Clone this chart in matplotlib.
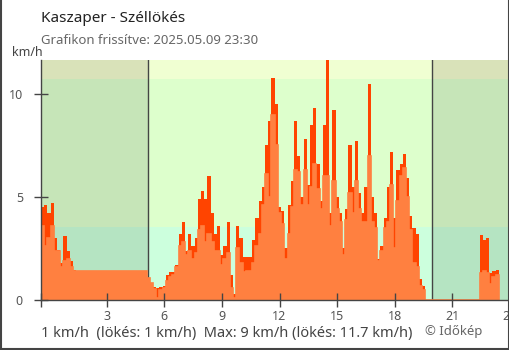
import matplotlib
matplotlib.use('Agg')
import matplotlib.pyplot as plt
from matplotlib.lines import Line2D
import numpy as np

plt.rcParams['font.family'] = ['Noto Sans', 'DejaVu Sans']

# 10 minute values, first one starting 23:35 the day before
gust = [4.5, 4.6, 4.2, 4.7, 3.0, 2.45, 1.8, 3.1, 2.4, 1.9,
        1.45, 1.42, 1.42, 1.42, 1.42, 1.42, 1.42, 1.42, 1.42, 1.42,
        1.42, 1.42, 1.42, 1.42, 1.42, 1.42, 1.42, 1.42, 1.42, 1.42,
        1.42, 1.42, 1.42, 1.05, 0.84, 0.65, 0.6, 0.65, 0.7, 1.2,
        1.38, 1.38, 1.7, 3.2, 3.8, 2.4, 3.2, 2.6, 3.0, 4.9,
        5.3, 4.9, 6.0, 4.2, 3.2, 3.6, 2.2, 2.6, 3.8, 1.2,
        0.3, 3.6, 3.0, 2.1, 2.1, 2.1, 2.9, 4.0, 4.8, 5.5,
        7.5, 8.7, 10.8, 9.5, 4.5, 4.3, 2.5, 4.6, 5.8, 8.7,
        7.0, 5.0, 7.8, 5.6, 8.5, 9.3, 6.6, 4.8, 8.5, 11.7,
        4.2, 9.2, 5.0, 4.2, 2.5, 4.4, 7.5, 5.5, 7.7, 5.2,
        4.2, 5.5, 10.5, 5.0, 4.2, 2.0, 2.6, 4.0, 5.5, 7.2,
        4.0, 6.3, 6.6, 7.1, 5.9, 4.1, 3.5, 3.2, 1.0, 0.7,
        0, 0, 0, 0, 0, 0, 0, 0, 0, 0,
        0, 0, 0, 0, 0, 0, 0, 3.15, 2.9, 3.0,
        1.3, 1.4, 1.45]
avg = [3.6, 2.6, 3.0, 3.6, 2.4, 2.4, 1.6, 1.9, 2.0, 1.6,
       1.42, 1.42, 1.42, 1.42, 1.42, 1.42, 1.42, 1.42, 1.42, 1.42,
       1.42, 1.42, 1.42, 1.42, 1.42, 1.42, 1.42, 1.42, 1.42, 1.42,
       1.42, 1.42, 1.42, 1.05, 0.84, 0.55, 0.1, 0.5, 0.6, 0.9,
       1.1, 1.2, 1.6, 2.6, 2.8, 2.2, 2.4, 2.0, 2.3, 3.4,
       3.6, 2.8, 3.2, 2.8, 2.4, 2.4, 1.7, 2.0, 2.3, 0.6,
       0.1, 2.5, 1.8, 1.35, 1.4, 1.4, 1.8, 2.6, 3.2, 4.6,
       6.1, 5.0, 9.0, 7.5, 4.2, 3.7, 2.0, 3.2, 4.5, 6.3,
       6.2, 4.6, 6.3, 4.6, 5.5, 6.6, 5.4, 4.4, 6.0, 6.0,
       3.6, 5.8, 4.4, 3.8, 2.2, 3.9, 5.2, 4.2, 5.8, 4.4,
       3.8, 3.8, 7.0, 3.8, 3.5, 1.9, 2.4, 3.5, 3.8, 5.6,
       2.5, 4.8, 6.0, 6.4, 5.0, 3.4, 1.8, 1.6, 0.7, 0.5,
       0, 0, 0, 0, 0, 0, 0, 0, 0, 0,
       0, 0, 0, 0, 0, 0, 0, 1.3, 1.4, 1.3,
       0.8, 1.1, 1.2]

start_h = -25 / 60
sunrise = 5.17
sunset = 19.96
band_limits = [0, 3.54, 10.72, 11.65]
day_colors = ['#ccffdd', '#ddffcc', '#f0ffd2']
night_colors = ['#b5e4c2', '#c6e5b8', '#d9e2b9']
xticks = [3, 6, 9, 12, 15, 18, 21, 24]
yticks = [0, 5, 10]

gust_color = '#ff4400'
avg_color = '#ff8040'

edges = start_h + np.arange(len(gust) + 1) / 6
xmin, xmax = start_h, 24.0

fig = plt.figure(figsize=(5.1, 3.5), dpi=100)
ax = fig.add_axes([41 / 510, 50 / 350, 469 / 510, 240 / 350])

# background bands, night parts darker
for k in range(3):
    lo, hi = band_limits[k], band_limits[k + 1]
    ax.fill_between([xmin, sunrise], lo, hi, color=night_colors[k], lw=0, zorder=0)
    ax.fill_between([sunrise, sunset], lo, hi, color=day_colors[k], lw=0, zorder=0)
    ax.fill_between([sunset, xmax], lo, hi, color=night_colors[k], lw=0, zorder=0)
ax.axvline(sunrise, color='#444444', lw=1, zorder=0.5)
ax.axvline(sunset, color='#444444', lw=1, zorder=0.5)

ax.stairs(gust, edges, fill=True, color=gust_color, lw=0, zorder=1)
ax.stairs(avg, edges, fill=True, color=avg_color, lw=0, zorder=1.2)
ax.stairs(avg, edges, color=avg_color, lw=1.2, zorder=1.3)

ax.set_xlim(xmin, xmax)
ax.set_ylim(band_limits[0], band_limits[-1])
ax.set_xticks([xmin] + xticks)
ax.set_xticklabels([''] + [str(v) for v in xticks])
ax.set_yticks(yticks)
ax.tick_params(direction='inout', length=10, width=1, color='#444444',
               labelcolor='#555555', labelsize=9)
ax.tick_params(axis='y', pad=8)
ax.tick_params(axis='x', pad=2.5)
for s in ['top', 'right']:
    ax.spines[s].set_visible(False)
for s in ['left', 'bottom']:
    ax.spines[s].set_color('#444444')
    ax.spines[s].set_linewidth(1)

fig.text(41 / 510, 1 - 18 / 350, 'Kaszaper - Széllökés', fontsize=11,
         color='#222222', va='center', ha='left')
fig.text(41 / 510, 1 - 41 / 350, 'Grafikon frissítve: 2025.05.09 23:30',
         fontsize=9.5, color='#666666', va='center', ha='left')
fig.text(12 / 510, 1 - 52 / 350, 'km/h', fontsize=9, color='#444444',
         va='center', ha='left')
fig.text(41 / 510, 1 - 334 / 350,
         '1 km/h  (lökés: 1 km/h)  Max: 9 km/h (lökés: 11.7 km/h)',
         fontsize=10.5, color='#444444', va='center', ha='left')
fig.text(425 / 510, 1 - 332 / 350, '© Időkép', fontsize=9.5,
         color='#666666', va='center', ha='left')

# frame around the picture
fig.add_artist(Line2D([0.001, 0.001], [0, 1], color='#444444', lw=1.5))
fig.add_artist(Line2D([0, 1], [0.002, 0.002], color='#444444', lw=1.5))
fig.add_artist(Line2D([0.999, 0.999], [0, 1], color='#444444', lw=1.5))

fig.savefig('out.png', dpi=100)
